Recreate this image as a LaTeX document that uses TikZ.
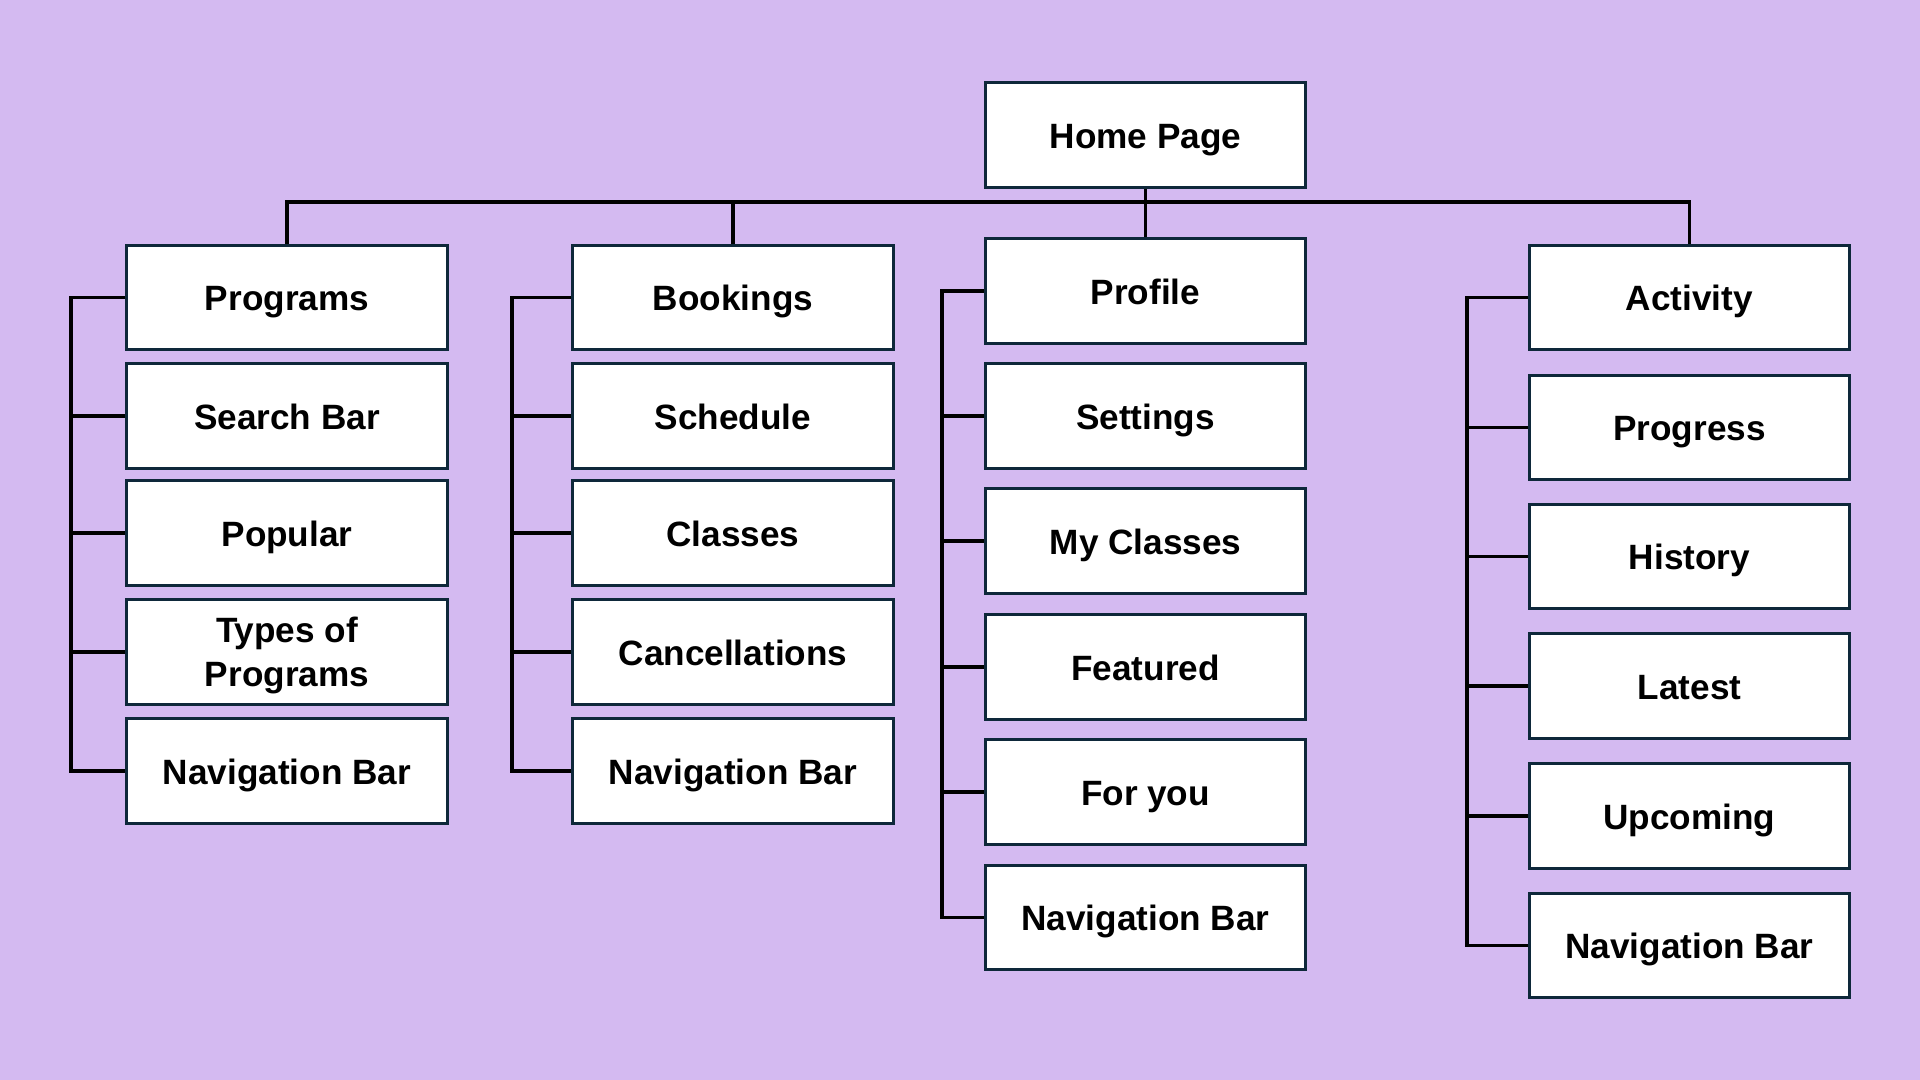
\documentclass[tikz,border=0pt]{standalone}
\usepackage{fontspec}
\setmainfont{Liberation Sans}
\definecolor{bg}{RGB}{212,186,241}
\definecolor{boxline}{RGB}{14,40,58}
\begin{document}
\begin{tikzpicture}[x=0.01cm,y=-0.01cm,
  page/.style={draw=boxline,line width=0.85pt,fill=white,minimum width=3.2cm,minimum height=1.04cm,
    inner sep=0pt,align=center,text height=8.4pt,text depth=0.8pt,font=\fontsize{10}{12.5}\selectfont\bfseries},
  twoline/.style={text height=20.5pt,text depth=0.8pt},
  link/.style={draw=black,line width=0.9pt}]
\fill[bg] (0,0) rectangle (1920,1080);
\useasboundingbox (0,0) rectangle (1920,1080);

\node[page] (home) at (1145.5,135) {Home Page};

% Programs column
\node[page] (prog) at (287,297.5) {Programs};
\node[page] (search) at (287,416) {Search Bar};
\node[page] (popular) at (287,533) {Popular};
\node[page,twoline] (types) at (287,652) {Types of\\Programs};
\node[page] (nav1) at (287,771) {Navigation Bar};

% Bookings column
\node[page] (book) at (733,297.5) {Bookings};
\node[page] (sched) at (733,416) {Schedule};
\node[page] (classes) at (733,533) {Classes};
\node[page] (cancel) at (733,652) {Cancellations};
\node[page] (nav2) at (733,771) {Navigation Bar};

% Profile column
\node[page] (profile) at (1145.5,291) {Profile};
\node[page] (settings) at (1145.5,416) {Settings};
\node[page] (myclasses) at (1145.5,541) {My Classes};
\node[page] (featured) at (1145.5,667) {Featured};
\node[page] (foryou) at (1145.5,792) {For you};
\node[page] (nav3) at (1145.5,917.5) {Navigation Bar};

% Activity column
\node[page] (activity) at (1689.5,297.5) {Activity};
\node[page] (progress) at (1689.5,427.5) {Progress};
\node[page] (history) at (1689.5,556.5) {History};
\node[page] (latest) at (1689.5,686) {Latest};
\node[page] (upcoming) at (1689.5,816) {Upcoming};
\node[page] (nav4) at (1689.5,945.5) {Navigation Bar};

% top bar
\coordinate (bar) at (0,202);
\coordinate (sp1) at (71,0);
\coordinate (sp2) at (512,0);
\coordinate (sp3) at (942,0);
\coordinate (sp4) at (1467,0);

\draw[link] (home.south) -- (home.south |- bar);
\draw[link] (prog.north) -- (prog.north |- bar) -- (activity.north |- bar) -- (activity.north);
\draw[link] (book.north) -- (book.north |- bar);
\draw[link] (profile.north) -- (profile.north |- bar);

% spines
\draw[link] (prog.west) -- (prog.west -| sp1) -- (nav1.west -| sp1) -- (nav1.west);
\foreach \n in {search,popular,types} \draw[link] (\n.west) -- (\n.west -| sp1);

\draw[link] (book.west) -- (book.west -| sp2) -- (nav2.west -| sp2) -- (nav2.west);
\foreach \n in {sched,classes,cancel} \draw[link] (\n.west) -- (\n.west -| sp2);

\draw[link] (profile.west) -- (profile.west -| sp3) -- (nav3.west -| sp3) -- (nav3.west);
\foreach \n in {settings,myclasses,featured,foryou} \draw[link] (\n.west) -- (\n.west -| sp3);

\draw[link] (activity.west) -- (activity.west -| sp4) -- (nav4.west -| sp4) -- (nav4.west);
\foreach \n in {progress,history,latest,upcoming} \draw[link] (\n.west) -- (\n.west -| sp4);
\end{tikzpicture}
\end{document}
